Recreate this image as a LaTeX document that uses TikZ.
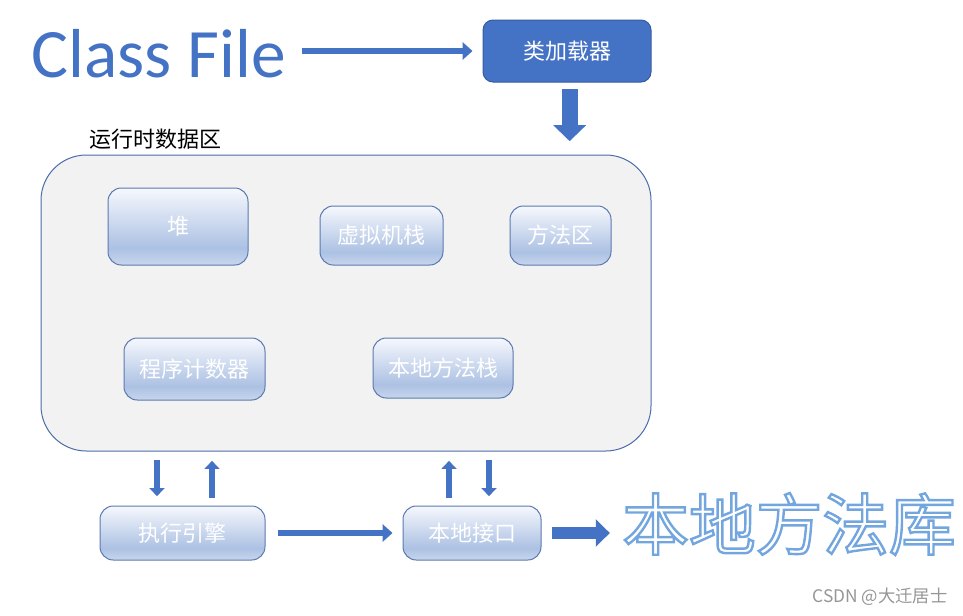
\documentclass[tikz,border=0pt]{standalone}
\usepackage{fontspec}
\setmainfont{Noto Sans CJK SC}
\newfontfamily\latinfont{Carlito}
\newfontfamily\libfont{Noto Sans CJK SC}[RawFeature={embolden=3.6}]
\usetikzlibrary{arrows.meta}

\definecolor{jvmblue}{RGB}{68,114,196}
\definecolor{loaderline}{RGB}{54,92,163}
\definecolor{areafill}{RGB}{242,242,242}
\definecolor{arealine}{RGB}{76,108,170}
\definecolor{partline}{RGB}{92,122,176}
\definecolor{boxtop}{RGB}{246,248,253}
\definecolor{boxmid}{RGB}{172,193,227}
\definecolor{boxbot}{RGB}{200,214,237}
\definecolor{markgray}{RGB}{150,150,150}
\pgfdeclareverticalshading{partshade}{100bp}{color(0bp)=(boxbot); color(25bp)=(boxbot); color(36bp)=(boxmid); color(75bp)=(boxtop); color(100bp)=(boxtop)}
% white fill, light blue stroke
\newcommand{\libword}[1]{\special{pdf:bcolor [1 1 1] [0.45 0.65 0.87]}#1\special{pdf:ecolor}}

\tikzset{every picture/.style={line width=0.75pt}}
\tikzset{
  boxfont/.style={font=\fontsize{16.5}{18}\selectfont},
  loaderbox/.style={boxfont, rounded corners=7.5pt, fill=jvmblue, draw=loaderline, text=white, minimum width=126pt, minimum height=46.5pt},
  areabox/.style={rounded corners=34pt, fill=areafill, draw=arealine, minimum width=457.5pt, minimum height=222pt},
  partbox/.style={boxfont, rounded corners=10pt, shading=partshade, draw=partline, text=white},
  libtext/.style={inner sep=0pt, font=\libfont\fontsize{50}{56}\selectfont},
  flowarrow/.style={draw=jvmblue, line width=4.75pt, -{Triangle[length=7.5pt,width=13pt]}},
  feedarrow/.style={draw=jvmblue, line width=12pt, -{Triangle[length=12pt,width=24pt]}},
  busarrow/.style={draw=jvmblue, line width=5pt, -{Triangle[length=6pt,width=11pt]}, shorten <=6pt, shorten >=7pt},
  libarrow/.style={draw=jvmblue, line width=9pt, -{Triangle[length=10.5pt,width=20pt]}}
}

\begin{document}
\begin{tikzpicture}[x=0.75pt,y=0.75pt,yscale=-1,xscale=1]
	\useasboundingbox (0,0) rectangle (963,615);

	% Text Node
	\draw (31,54) node [anchor=west, inner sep=0pt, text=jvmblue, font=\latinfont\fontsize{52}{60}\selectfont] (cf) {Class File};
	%Shape: Rounded Rect
	\draw (567,51) node [loaderbox] (loader) {类加载器};

	%Shape: Rounded Rect
	\draw (346,303) node [areabox] (rda) {};
	% Text Node
	\draw (89,139) node [anchor=west, inner sep=0pt, boxfont] (rdalabel) {运行时数据区};

	%Shape: Rounded Rect
	\draw (178,226.5) node [partbox, minimum width=105pt, minimum height=57.75pt] (heap) {堆};
	\draw (381.5,235.5) node [partbox, minimum width=92.25pt, minimum height=44.25pt] (vmstack) {虚拟机栈};
	\draw (560.5,235.5) node [partbox, minimum width=75.75pt, minimum height=44.25pt] (method) {方法区};
	\draw (194.5,369) node [partbox, minimum width=105.75pt, minimum height=46.5pt] (pc) {程序计数器};
	\draw (443,368) node [partbox, minimum width=105pt, minimum height=45pt] (nstack) {本地方法栈};

	%Shape: Rounded Rect
	\draw (182.5,533) node [partbox, minimum width=123.75pt, minimum height=40.5pt] (exec) {执行引擎};
	\draw (472,533) node [partbox, minimum width=103.5pt, minimum height=40.5pt] (native) {本地接口};

	% Text Node
	\draw (789,524) node [libtext] (lib) {\libword{本地方法库}};
	% Text Node
	\draw (948,597) node [anchor=east, inner sep=0pt, text=markgray, font=\fontsize{13}{15}\selectfont] (mark) {CSDN @大迁居士};

	%Straight Lines
	\draw [flowarrow, shorten <=12pt, shorten >=7.5pt] (cf.east |- loader.west) -- (loader.west);
	\draw [feedarrow, shorten <=5pt, shorten >=10pt] ([xshift=2pt]loader.south) -- ([xshift=2pt]loader.south |- rda.north);

	\coordinate (busa) at (157,0);
	\coordinate (busb) at (212,0);
	\coordinate (busc) at (449,0);
	\coordinate (busd) at (489,0);
	\draw [busarrow] (rda.south -| busa) -- (exec.north -| busa);
	\draw [busarrow] (exec.north -| busb) -- (rda.south -| busb);
	\draw [busarrow] (native.north -| busc) -- (rda.south -| busc);
	\draw [busarrow] (rda.south -| busd) -- (native.north -| busd);

	\draw [flowarrow, shorten <=9pt, shorten >=7.5pt] (exec.east) -- (native.west);
	\draw [libarrow, shorten <=8pt, shorten >=9pt] (native.east) -- (native.east -| lib.west);

\end{tikzpicture}
\end{document}
